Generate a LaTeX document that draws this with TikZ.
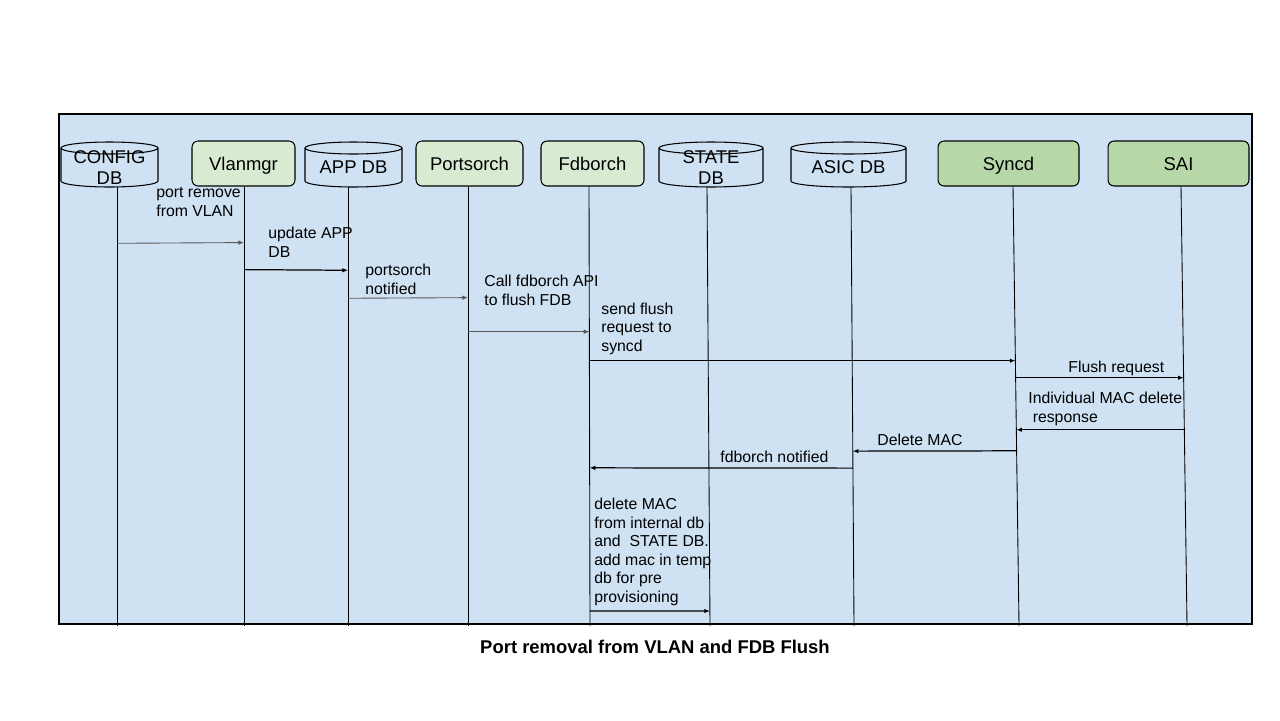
\documentclass[tikz,border=0pt]{standalone}
\usepackage{fontspec}
\setmainfont{Liberation Sans}
\usetikzlibrary{arrows.meta,calc}
\definecolor{bgblue}{HTML}{CFE2F3}
\definecolor{lightgreen}{HTML}{D9EAD3}
\definecolor{darkgreen}{HTML}{B6D7A8}
\definecolor{msggrey}{HTML}{595959}
\newcommand{\hdrfont}{\fontsize{10.5}{12}\selectfont}
\newcommand{\msgfont}{\fontsize{9}{10.5}\selectfont}
\begin{document}
\begin{tikzpicture}[x=0.02cm,y=-0.02cm,>={Latex[length=3.2pt,width=2.6pt]},
  box/.style={draw,line width=0.6pt,rounded corners=3.5pt,fill=lightgreen,font=\hdrfont,
    minimum height=0.9cm,inner sep=0,text height=7.5pt,text depth=0pt},
  db/.style={minimum height=0.78cm,inner sep=0,align=center,font=\hdrfont},
  life/.style={line width=0.5pt},
  lbl/.style={anchor=base west,align=left,inner sep=0,font=\msgfont},
  greymsg/.style={->,msggrey,line width=0.5pt},
  blackmsg/.style={->,black,line width=0.7pt}]
\def\px{0.02cm}
\def\zyl#1#2{
\draw[fill=bgblue,line width=0.6pt] ($(#1)+(-#2,-19.5)$) -- ($(#1)+(-#2,13.5)$)
  arc[start angle=180,end angle=360,x radius=#2*\px,y radius=6*\px]
  -- ($(#1)+(#2,-19.5)$)
  arc[start angle=0,end angle=360,x radius=#2*\px,y radius=6*\px];
}
\def\linie#1#2#3{
\coordinate (#1top) at (#2,0 |- #1.south);
\coordinate (#1bot) at (#3,626);
\draw[life] (#1top) -- (#1bot);
}
\def\msg#1#2#3#4{
\draw[#1] ($(#2top)!{(#4-187)/439}!(#2bot)$) -- ($(#3top)!{(#4-187)/439}!(#3bot)$);
}
\useasboundingbox (0,0) rectangle (1280,720);
\draw[fill=bgblue,line width=0.6pt] (59,114) rectangle (1252,624);

% databases
\coordinate (cfgc) at (109.5,167.5);
\coordinate (appc) at (353.5,167.5);
\coordinate (statec) at (711,167.5);
\coordinate (asicc) at (848.5,167.5);
\zyl{cfgc}{48.5}
\zyl{appc}{48.5}
\zyl{statec}{52}
\zyl{asicc}{57.5}
\node (cfg) [db] at (cfgc) {CONFIG\\DB};
\node (app) [db] at (appc) {APP DB};
\node (state) [db] at (statec) {STATE\\DB};
\node (asic) [db] at (asicc) {ASIC DB};

% processes
\node (vlan) [box,minimum width=2.06cm] at (243.5,163.5) {Vlanmgr};
\node (port) [box,minimum width=2.14cm] at (469.5,163.5) {Portsorch};
\node (fdb) [box,minimum width=2.06cm] at (592.5,163.5) {Fdborch};
\node (sync) [box,minimum width=2.82cm,fill=darkgreen] at (1008.5,163.5) {Syncd};
\node (sai) [box,minimum width=2.82cm,fill=darkgreen] at (1178.5,163.5) {SAI};

% lifelines
\linie{cfg}{117}{117}
\linie{vlan}{244}{244}
\linie{app}{348}{348}
\linie{port}{468}{468}
\linie{fdb}{589}{590}
\linie{state}{707}{710}
\linie{asic}{851}{854}
\linie{sync}{1013}{1019}
\linie{sai}{1181}{1187}

% messages
\msg{greymsg}{cfg}{vlan}{243}
\msg{blackmsg}{vlan}{app}{270}
\msg{greymsg}{app}{port}{298}
\msg{greymsg}{port}{fdb}{332}
\msg{blackmsg}{fdb}{sync}{361}
\msg{blackmsg}{sync}{sai}{378}
\msg{blackmsg}{sai}{sync}{430}
\msg{blackmsg}{sync}{asic}{451}
\msg{blackmsg}{asic}{fdb}{468}
\msg{blackmsg}{fdb}{state}{611}

\node (l1) [lbl] at (156,216) {port remove\\from VLAN};
\node (l2) [lbl] at (268,257) {update APP\\DB};
\node (l3) [lbl] at (365,294) {portsorch\\notified};
\node (l4) [lbl] at (484,305) {Call fdborch API\\to flush FDB};
\node (l5) [lbl] at (601,351) {send flush\\request to\\syncd};
\node (l6) [lbl] at (1068,372) {Flush request};
\node (l7) [lbl] at (1028,422) {Individual MAC delete\\\ response};
\node (l8) [lbl] at (877,445) {Delete MAC};
\node (l9) [lbl] at (720,462) {fdborch notified};
\node (l10) [lbl] at (594,602) {delete MAC\\from internal db\\and \ STATE DB.\\add mac in temp\\db for pre\\provisioning};

\node (titel) [font=\bfseries\fontsize{10.5}{12}\selectfont,anchor=base] at (655,653) {Port removal from VLAN and FDB Flush};
\end{tikzpicture}
\end{document}
